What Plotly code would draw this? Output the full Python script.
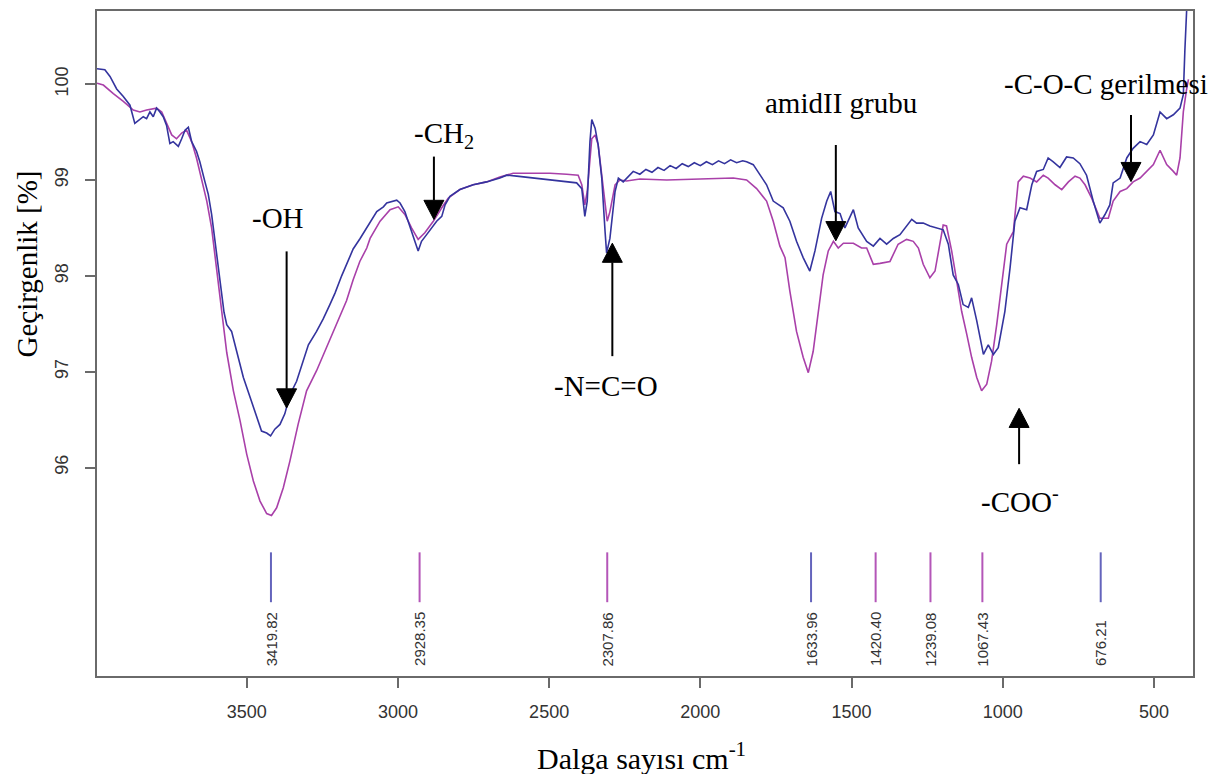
import plotly.graph_objects as go

# ---------------- data ----------------
wn_blue = [3995, 3969, 3952, 3930, 3908, 3886, 3870, 3853, 3842, 3831, 3820, 3809, 3798, 3787, 3776,
           3765, 3754, 3743, 3726, 3715, 3704, 3693, 3682, 3666, 3655, 3638, 3627, 3616, 3605, 3588,
           3575, 3566, 3550, 3533, 3511, 3484, 3462, 3451, 3434, 3421, 3407, 3390, 3374, 3357, 3335,
           3313, 3296, 3269, 3247, 3225, 3208, 3186, 3170, 3148, 3125, 3103, 3070, 3048, 3037, 3004,
           2993, 2977, 2960, 2944, 2933, 2922, 2905, 2888, 2872, 2855, 2844, 2828, 2795, 2751, 2707,
           2663, 2640, 2607, 2552, 2508, 2464, 2409, 2392, 2382, 2374, 2365, 2359, 2348, 2338, 2326,
           2315, 2310, 2299, 2282, 2271, 2255, 2222, 2200, 2180, 2160, 2140, 2120, 2100, 2080, 2060,
           2040, 2020, 2000, 1980, 1960, 1940, 1920, 1900, 1880, 1860, 1847, 1825, 1803, 1781, 1759,
           1726, 1704, 1682, 1660, 1638, 1621, 1599, 1582, 1569, 1555, 1538, 1522, 1505, 1494, 1478,
           1450, 1428, 1406, 1384, 1362, 1340, 1318, 1301, 1285, 1263, 1241, 1219, 1197, 1180, 1164,
           1147, 1131, 1114, 1103, 1086, 1064, 1048, 1031, 1015, 993, 976, 960, 943, 921, 904,
           888, 866, 850, 833, 811, 789, 767, 745, 723, 701, 679, 662, 646, 635, 612,
           590, 569, 546, 524, 502, 480, 458, 436, 414, 403, 398, 392, 386]
t_blue = [100.16, 100.15, 100.08, 99.95, 99.87, 99.78, 99.59, 99.63, 99.66, 99.64, 99.71, 99.66, 99.75, 99.71, 99.66,
          99.57, 99.38, 99.40, 99.35, 99.43, 99.52, 99.55, 99.40, 99.30, 99.19, 98.98, 98.85, 98.64, 98.36, 97.90,
          97.62, 97.49, 97.42, 97.21, 96.94, 96.69, 96.49, 96.38, 96.36, 96.33, 96.40, 96.45, 96.56, 96.76, 96.90,
          97.11, 97.28, 97.42, 97.55, 97.70, 97.82, 98.00, 98.12, 98.28, 98.39, 98.50, 98.67, 98.72, 98.76, 98.79,
          98.76, 98.67, 98.50, 98.36, 98.26, 98.36, 98.43, 98.50, 98.57, 98.62, 98.74, 98.83, 98.90, 98.95, 98.98,
          99.02, 99.05, 99.04, 99.02, 99.01, 98.99, 98.97, 98.91, 98.62, 98.78, 99.40, 99.63, 99.54, 99.37, 99.02,
          98.46, 98.24, 98.39, 98.88, 99.02, 98.98, 99.09, 99.06, 99.11, 99.08, 99.13, 99.10, 99.15, 99.12, 99.17,
          99.14, 99.18, 99.15, 99.19, 99.16, 99.20, 99.17, 99.21, 99.18, 99.20, 99.19, 99.16, 99.05, 98.95, 98.78,
          98.71, 98.57, 98.36, 98.19, 98.05, 98.26, 98.60, 98.78, 98.88, 98.67, 98.65, 98.50, 98.62, 98.69, 98.50,
          98.36, 98.31, 98.39, 98.33, 98.39, 98.43, 98.52, 98.59, 98.55, 98.55, 98.52, 98.50, 98.48, 98.33, 98.01,
          97.91, 97.70, 97.67, 97.77, 97.53, 97.18, 97.28, 97.18, 97.25, 97.63, 98.08, 98.57, 98.71, 98.69, 98.95,
          99.09, 99.11, 99.23, 99.19, 99.13, 99.24, 99.23, 99.17, 99.05, 98.78, 98.55, 98.64, 98.74, 98.97, 99.02,
          99.23, 99.33, 99.40, 99.37, 99.47, 99.71, 99.64, 99.68, 99.75, 99.89, 100.34, 100.75, 101.20]

wn_mag = [3995, 3974, 3941, 3908, 3875, 3853, 3831, 3798, 3781, 3765, 3748, 3732, 3715, 3699, 3682,
          3666, 3649, 3632, 3616, 3599, 3583, 3566, 3544, 3522, 3500, 3478, 3456, 3434, 3418, 3401,
          3379, 3357, 3330, 3302, 3269, 3236, 3203, 3170, 3148, 3126, 3103, 3092, 3059, 3026, 2999,
          2977, 2955, 2933, 2911, 2883, 2855, 2834, 2795, 2751, 2707, 2663, 2619, 2552, 2497, 2442,
          2404, 2392, 2382, 2374, 2359, 2348, 2338, 2326, 2315, 2308, 2299, 2282, 2266, 2244, 2200,
          2111, 2001, 1891, 1847, 1814, 1781, 1759, 1737, 1720, 1704, 1682, 1660, 1643, 1627, 1610,
          1594, 1577, 1560, 1544, 1527, 1494, 1467, 1450, 1428, 1406, 1373, 1346, 1318, 1296, 1279,
          1263, 1241, 1224, 1208, 1197, 1186, 1169, 1152, 1136, 1119, 1103, 1086, 1070, 1053, 1037,
          1020, 1004, 987, 965, 949, 932, 910, 888, 866, 850, 827, 805, 783, 761, 745,
          728, 706, 679, 651, 635, 612, 590, 569, 546, 524, 502, 480, 458, 436, 425,
          414, 403, 392, 386]
t_mag = [100.01, 99.99, 99.90, 99.82, 99.73, 99.71, 99.73, 99.75, 99.71, 99.59, 99.47, 99.43, 99.49, 99.52, 99.40,
         99.23, 99.02, 98.78, 98.50, 98.05, 97.65, 97.20, 96.80, 96.49, 96.14, 95.86, 95.65, 95.52, 95.50, 95.58,
         95.79, 96.07, 96.45, 96.80, 97.01, 97.25, 97.49, 97.74, 97.96, 98.15, 98.29, 98.39, 98.57, 98.69, 98.72,
         98.64, 98.50, 98.38, 98.45, 98.57, 98.71, 98.81, 98.90, 98.95, 98.98, 99.03, 99.07, 99.07, 99.07, 99.06,
         99.05, 98.95, 98.74, 98.88, 99.43, 99.47, 99.37, 99.05, 98.71, 98.57, 98.67, 98.95, 99.00, 98.99, 99.01,
         99.00, 99.01, 99.02, 99.00, 98.91, 98.78, 98.57, 98.31, 98.19, 97.84, 97.42, 97.15, 96.99, 97.21, 97.63,
         98.01, 98.26, 98.36, 98.29, 98.34, 98.34, 98.29, 98.29, 98.12, 98.13, 98.15, 98.33, 98.38, 98.36, 98.29,
         98.12, 97.98, 98.05, 98.33, 98.53, 98.52, 98.26, 97.94, 97.63, 97.39, 97.15, 96.94, 96.80, 96.87, 97.11,
         97.49, 97.91, 98.33, 98.46, 98.98, 99.04, 99.02, 98.98, 99.05, 99.02, 98.95, 98.90, 98.98, 99.04, 99.02,
         98.95, 98.81, 98.60, 98.60, 98.78, 98.88, 98.91, 98.98, 99.02, 99.09, 99.16, 99.31, 99.16, 99.09, 99.05,
         99.23, 99.71, 99.95, 100.05]

peak_wn = [3419.82, 2928.35, 2307.86, 1633.96, 1420.40, 1239.08, 1067.43, 676.21]
peak_series = ["blue", "mag", "mag", "blue", "mag", "mag", "mag", "blue"]
peak_labels = ["3419.82", "2928.35", "2307.86", "1633.96", "1420.40", "1239.08", "1067.43", "676.21"]

x_ticks = [500, 1000, 1500, 2000, 2500, 3000, 3500]
y_ticks = [96, 97, 98, 99, 100]

# annotations: text, x, y
notes = [("-OH", 3398, 98.60), ("-CH<sub>2</sub>", 2848, 99.47), ("-N=C=O", 2312, 96.85),
         ("amidII grubu", 1535, 99.80), ("-C-O-C gerilmesi", 659, 100.00), ("-COO<sup>-</sup>", 943, 95.66)]
# arrows: x, tail y, tip y
arrows = [(3368, 98.255, 96.621), (2881, 99.244, 98.588), (2291, 97.162, 98.341),
          (1552, 99.365, 98.366), (576, 99.677, 98.983), (946, 96.035, 96.618)]

# ---------------- styling ----------------
BLUE = "#34349e"
MAG = "#a940a9"
PEAK_COL = {"blue": "#6464bc", "mag": "#b456b8"}
FRAME = "#6a6a6a"
SERIF = "Liberation Serif, Times New Roman, serif"
SANS = "Liberation Sans, Arial, sans-serif"

fig = go.Figure()
fig.add_trace(go.Scatter(x=wn_mag, y=t_mag, mode="lines", line=dict(color=MAG, width=1.6),
                         showlegend=False, hoverinfo="skip"))
fig.add_trace(go.Scatter(x=wn_blue, y=t_blue, mode="lines", line=dict(color=BLUE, width=1.6),
                         showlegend=False, hoverinfo="skip"))

PEAK_TOP, PEAK_BOT, LABEL_BOTTOM = 95.115, 94.595, 93.905
for key in ("blue", "mag"):
    xs, ys = [], []
    for p, s in zip(peak_wn, peak_series):
        if s == key:
            xs += [p, p, None]
            ys += [PEAK_TOP, PEAK_BOT, None]
    fig.add_trace(go.Scatter(x=xs, y=ys, mode="lines", line=dict(color=PEAK_COL[key], width=2),
                             showlegend=False, hoverinfo="skip"))

annotations = []
for p, lab in zip(peak_wn, peak_labels):
    annotations.append(dict(x=p, y=LABEL_BOTTOM, xref="x", yref="y", text=lab, showarrow=False,
                            textangle=-90, xanchor="center", yanchor="bottom",
                            font=dict(family=SANS, size=15, color="#333333")))
for txt, x, y in notes:
    annotations.append(dict(x=x, y=y, xref="x", yref="y", text=txt, showarrow=False,
                            xanchor="center", yanchor="middle",
                            font=dict(family=SERIF, size=29, color="black")))
# axis titles
annotations.append(dict(x=0.4964, y=-0.121, xref="paper", yref="paper", text="Dalga sayısı cm<sup>-1</sup>",
                        showarrow=False, xanchor="center", yanchor="middle",
                        font=dict(family=SERIF, size=30, color="black")))
annotations.append(dict(x=-0.064, y=0.620, xref="paper", yref="paper", text="Geçirgenlik [%]",
                        showarrow=False, textangle=-90, xanchor="center", yanchor="middle",
                        font=dict(family=SERIF, size=29, color="black")))

shapes = []
HW, TH = 33, 0.20
for x, tail, tip in arrows:
    d = 1 if tip > tail else -1
    base = tip - d * TH
    shapes.append(dict(type="line", xref="x", yref="y", x0=x, x1=x, y0=tail, y1=base,
                       line=dict(color="black", width=2)))
    shapes.append(dict(type="path", xref="x", yref="y",
                       path=f"M {x - HW},{base} L {x + HW},{base} L {x},{tip} Z",
                       fillcolor="black", line=dict(color="black", width=1)))

# the page body adds an 8px offset, so the figure is sized to fit the 1226x774 window
fig.update_layout(
    width=1218, height=766,
    margin=dict(l=89, r=33, t=1, b=98),
    paper_bgcolor="white", plot_bgcolor="white",
    annotations=annotations, shapes=shapes,
    xaxis=dict(range=[3995, 371], tickvals=x_ticks, ticktext=[str(v) for v in x_ticks],
               showgrid=False, zeroline=False, showline=True, mirror=True,
               linecolor=FRAME, linewidth=2, ticks="outside", ticklen=10, tickwidth=2,
               tickcolor=FRAME, ticklabelstandoff=8,
               tickfont=dict(family=SANS, size=18, color="#333333")),
    yaxis=dict(range=[93.825, 100.763], tickvals=y_ticks, ticktext=[str(v) for v in y_ticks],
               showgrid=False, zeroline=False, showline=True, mirror=True,
               linecolor=FRAME, linewidth=2, ticks="outside", ticklen=10, tickwidth=2,
               tickcolor=FRAME, tickangle=-90, ticklabelstandoff=10,
               tickfont=dict(family=SANS, size=18, color="#333333")),
)

fig.write_html("out.html")
